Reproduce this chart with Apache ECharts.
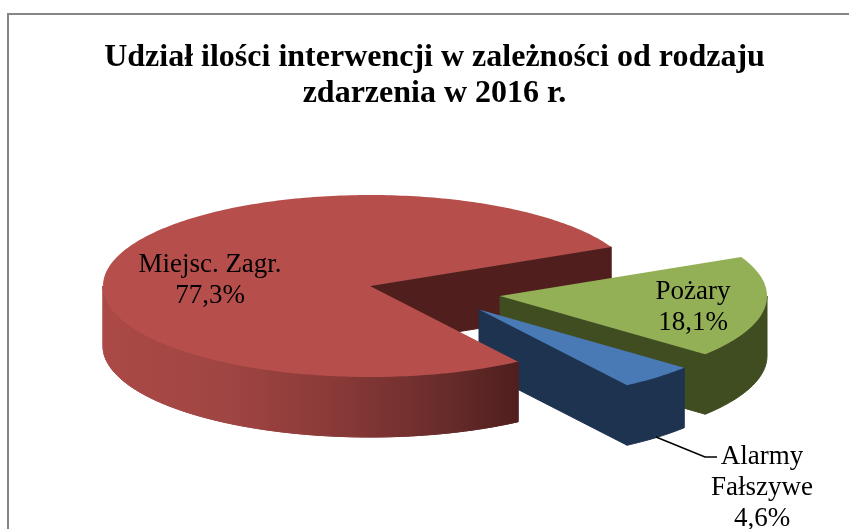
<!DOCTYPE html>
<html>
<head>
<meta charset="utf-8">
<style>html,body{margin:0;padding:0;background:#fff}#c{width:849px;height:529px}</style>
<script src="https://cdn.jsdelivr.net/npm/echarts@6/dist/echarts.min.js"></script>
</head>
<body>
<div id="c"></div>
<script>
var titleText = 'Udział ilości interwencji w zależności od rodzaju\nzdarzenia w 2016 r.';
var categories = ['Pożary', 'Alarmy\nFałszywe', 'Miejsc. Zagr.'];
var values = [18.1, 4.6, 77.3];

var FONT = '"Liberation Serif","Times New Roman",serif';
var START = 25.4, RX = 267, RY = 91, DEPTH = 60;
var looks = [
  {c: [500, 296], top: '#94b056', side: '#3f4d20', wall: '#3f4d20', z: 2, label: [693, 307]},
  {c: [479, 309.5], top: '#4a7ab5', side: '#1d3350', wall: '#1d3350', z: 6, label: [762, 488]},
  {c: [370, 286], top: '#b64e4b', wall: '#4f1e1d', z: 10, wallZ: 1, label: [210, 280],
   side: {type: 'linear', x: 0, y: 0, x2: 1, y2: 0, colorStops: [
     {offset: 0, color: '#ab4946'}, {offset: 0.3, color: '#a04543'},
     {offset: 0.6, color: '#853836'}, {offset: 0.85, color: '#642a29'},
     {offset: 1, color: '#4f1e1d'}]}}
];

function pt(c, deg, dz) {
  var a = deg * Math.PI / 180;
  return [c[0] + RX * Math.cos(a), c[1] - RY * Math.sin(a) + (dz || 0)];
}
function arc(c, from, to, dz) {
  var n = Math.max(2, Math.ceil(Math.abs(from - to))), out = [];
  for (var i = 0; i <= n; i++) out.push(pt(c, from + (to - from) * i / n, dz));
  return out;
}
function poly(points, fill, z2, sealed) {
  return {type: 'polygon', z2: z2, shape: {points: points},
    style: {fill: fill, stroke: sealed ? fill : null, lineWidth: sealed ? 1 : 0}};
}
function text(str, x, y, z2) {
  return {type: 'text', z2: z2, style: {text: str, x: x, y: y, fill: '#000', align: 'center',
    verticalAlign: 'middle', font: '27px ' + FONT, lineHeight: 31, textAlign: 'center', textVerticalAlign: 'middle'}};
}

function renderItem(params, api) {
  var i = params.dataIndex, look = looks[i], sum = 0;
  for (var k = 0; k < i; k++) sum += values[k];
  var a0 = START - sum * 3.6, a1 = a0 - api.value(0) * 3.6;
  var c = look.c, kids = [];
  var corner = pt(c, a1);
  kids.push(poly([c, corner, [corner[0], corner[1] + DEPTH], [c[0], c[1] + DEPTH]], look.wall, look.wallZ || look.z, true));
  var hi = Math.min(a0, 0), lo = Math.max(a1, -180);
  kids.push(poly(arc(c, hi, lo, 0).concat(arc(c, lo, hi, DEPTH)), look.side, look.z + 1, true));
  kids.push(poly([c].concat(arc(c, a0, a1, 0)), look.top, look.z + 2, false));
  var pct = api.value(0).toFixed(1).replace('.', ',') + '%';
  kids.push(text(categories[i] + '\n' + pct, look.label[0], look.label[1], 30));
  if (i === 1) {
    kids.push({type: 'polyline', z2: 30, shape: {points: [[656, 437], [705, 457], [717, 457]]},
      style: {stroke: '#000', lineWidth: 1.5, fill: null}});
  }
  return {type: 'group', children: kids};
}

var chart = echarts.init(document.getElementById('c'), null, {renderer: 'canvas'});
chart.setOption({
  animation: false,
  backgroundColor: '#fff',
  title: {
    text: titleText, left: 434, top: 35, textAlign: 'center',
    textStyle: {fontFamily: FONT, fontWeight: 'bold', fontSize: 32, lineHeight: 36, color: '#000', width: 700}
  },
  graphic: [{type: 'rect', silent: true, shape: {x: 8, y: 14, width: 900, height: 600},
    style: {fill: null, stroke: '#868686', lineWidth: 2}}],
  series: [{
    type: 'custom', coordinateSystem: 'none', silent: true,
    data: values.map(function (v) { return [v]; }),
    renderItem: renderItem
  }]
});
chart.setOption({title: {left: 429.5}});
</script>
</body>
</html>
